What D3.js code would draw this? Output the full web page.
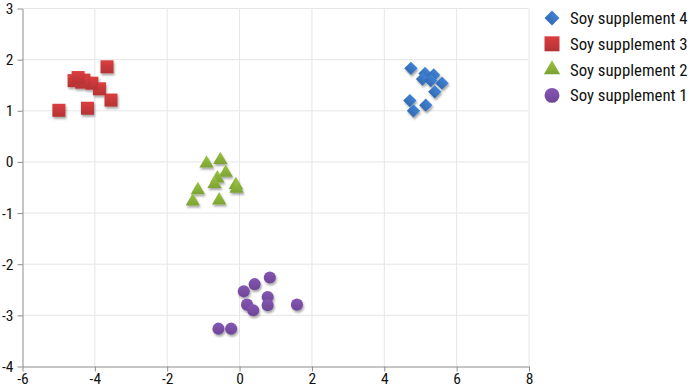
<!DOCTYPE html>
<html>
<head>
<meta charset="utf-8">
<script src="https://cdn.jsdelivr.net/npm/d3@7/dist/d3.min.js"></script>
<style>
  body { margin: 0; background: #fff; }
  text { font-family: "Liberation Sans Narrow", "Roboto Condensed", "Arial Narrow", Roboto, sans-serif; font-stretch: condensed; }
</style>
</head>
<body>
<div id="chart"></div>
<script>

// series data
var supp1 = [[0.85, -2.27], [0.43, -2.40], [0.13, -2.54], [0.79, -2.65], [0.79, -2.81],
             [0.22, -2.80], [0.39, -2.91], [1.60, -2.80], [-0.57, -3.27], [-0.22, -3.27]];
var supp2 = [[-0.90, -0.04], [-0.52, 0.03], [-0.37, -0.22], [-0.60, -0.33], [-0.68, -0.44],
             [-0.09, -0.46], [-0.07, -0.53], [-1.14, -0.56], [-1.28, -0.78], [-0.55, -0.76]];
var supp3 = [[-4.98, 1.00], [-4.19, 1.04], [-3.65, 1.85], [-3.54, 1.20], [-3.86, 1.42],
             [-4.07, 1.53], [-4.29, 1.59], [-4.56, 1.58], [-4.35, 1.55], [-4.45, 1.64]];
var supp4 = [[4.75, 1.82], [5.14, 1.72], [5.07, 1.61], [5.38, 1.69], [5.30, 1.58],
             [5.61, 1.53], [5.41, 1.36], [4.72, 1.19], [5.16, 1.10], [4.82, 0.99]];

var seriesNames = ["Soy supplement 1", "Soy supplement 2", "Soy supplement 3", "Soy supplement 4"];
var xTicks = [-6, -4, -2, 0, 2, 4, 6, 8];
var yTicks = [-4, -3, -2, -1, 0, 1, 2, 3];

var width = 690, height = 387;
var margin = {left: 22, top: 8, right: 162, bottom: 21};

var styles = [
  {color: "#7a4fa6", shape: d3.symbolCircle, size: 115, legendSize: 175, rot: 0},
  {color: "#8bb43a", shape: d3.symbolTriangle, size: 88, legendSize: 115, rot: 0},
  {color: "#c8393a", shape: d3.symbolSquare, size: 170, legendSize: 225, rot: 0},
  {color: "#3a77c4", shape: d3.symbolSquare, size: 88, legendSize: 112, rot: 45}
];
var allSeries = [supp1, supp2, supp3, supp4];

var x = d3.scaleLinear().domain([-6, 8]).range([margin.left, width - margin.right + 0.5]);
var y = d3.scaleLinear().domain([-4, 3]).range([height - margin.bottom, margin.top]);

var svg = d3.select("#chart").append("svg")
    .attr("width", width)
    .attr("height", height);

var defs = svg.append("defs");
var shadow = defs.append("filter").attr("id", "shadow")
    .attr("x", "-50%").attr("y", "-50%").attr("width", "200%").attr("height", "200%");
shadow.append("feDropShadow")
    .attr("dx", 1).attr("dy", 2).attr("stdDeviation", 1.2)
    .attr("flood-color", "#000").attr("flood-opacity", 0.35);

styles.forEach(function(s, i) {
  var g = defs.append("linearGradient").attr("id", "grad" + i)
      .attr("x1", 0).attr("y1", 0).attr("x2", 0).attr("y2", 1);
  g.append("stop").attr("offset", "0%").attr("stop-color", d3.color(s.color).brighter(0.25));
  g.append("stop").attr("offset", "100%").attr("stop-color", d3.color(s.color).darker(0.3));
});

// grid
svg.append("g").selectAll("line").data(xTicks.slice(1)).join("line")
    .attr("x1", d => x(d) + 0.5).attr("x2", d => x(d) + 0.5)
    .attr("y1", y(3)).attr("y2", y(-4))
    .attr("stroke", "#e6e6e6");
svg.append("g").selectAll("line").data(yTicks.slice(1)).join("line")
    .attr("x1", x(-6)).attr("x2", x(8))
    .attr("y1", d => y(d) + 0.5).attr("y2", d => y(d) + 0.5)
    .attr("stroke", "#e6e6e6");

// axes
var xAxis = svg.append("g")
    .attr("transform", "translate(0.5," + (y(-4) + 0.5) + ")")
    .call(d3.axisBottom(x).tickValues(xTicks).tickSize(5).tickSizeOuter(0).tickFormat(d3.format("d")));
var yAxis = svg.append("g")
    .attr("transform", "translate(" + (x(-6) + 0.5) + ",0.5)")
    .call(d3.axisLeft(y).tickValues(yTicks).tickSize(5).tickSizeOuter(0).tickFormat(d3.format("d")));

[xAxis, yAxis].forEach(function(a) {
  a.select(".domain").attr("stroke", "#8c8c8c");
  a.selectAll(".tick line").attr("stroke", "#8c8c8c");
  a.selectAll(".tick text").attr("fill", "#111").style("font-size", "15.5px")
    .text(function(d) { return d < 0 ? "-" + Math.abs(d) : d; });
});
xAxis.selectAll(".tick text").attr("y", 6);
yAxis.selectAll(".tick text").attr("x", -9);

// points
allSeries.forEach(function(data, i) {
  var s = styles[i];
  svg.append("g").attr("filter", "url(#shadow)")
    .selectAll("path").data(data).join("path")
      .attr("d", d3.symbol().type(s.shape).size(s.size))
      .attr("transform", d => "translate(" + x(d[0]) + "," + y(d[1]) + ") rotate(" + s.rot + ")")
      .attr("fill", "url(#grad" + i + ")");
});

// legend, top entry is series 4
var legend = svg.append("g").attr("transform", "translate(552,18)");
var order = [3, 2, 1, 0];
order.forEach(function(i, k) {
  var s = styles[i];
  var row = legend.append("g").attr("transform", "translate(0," + (k * 25.8) + ")");
  row.append("path")
    .attr("d", d3.symbol().type(s.shape).size(s.legendSize))
    .attr("transform", "rotate(" + s.rot + ")")
    .attr("fill", "url(#grad" + i + ")");
  row.append("text")
    .attr("x", 18).attr("y", 6)
    .attr("fill", "#111")
    .style("font-size", "16.8px")
    .text(seriesNames[i]);
});

</script>
</body>
</html>
